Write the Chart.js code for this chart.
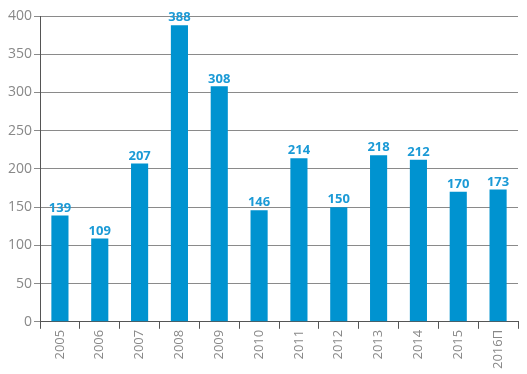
<!DOCTYPE html>
<html>
<head>
<meta charset="utf-8">
<script src="https://cdn.jsdelivr.net/npm/chart.js@4/dist/chart.umd.min.js"></script>
<style>
  html, body { margin: 0; padding: 0; background: #fff; }
  #wrap { width: 527px; height: 374px; }
</style>
</head>
<body>
<div id="wrap"><canvas id="chart"></canvas></div>
<script>
'use strict';

var years = ['2005', '2006', '2007', '2008', '2009', '2010', '2011', '2012', '2013', '2014', '2015', '2016П'];
var values = [139, 109, 207, 388, 308, 146, 214, 150, 218, 212, 170, 173];
var yTicks = [0, 50, 100, 150, 200, 250, 300, 350, 400];

// draws the value above each bar
var valueLabels = {
    id: 'valueLabels',
    afterDatasetsDraw: function (chart) {
        var ctx = chart.ctx;
        var meta = chart.getDatasetMeta(0);
        ctx.save();
        ctx.font = 'bold 13px "Open Sans", sans-serif';
        ctx.fillStyle = '#1b9ad6';
        ctx.textAlign = 'center';
        ctx.textBaseline = 'bottom';
        meta.data.forEach(function (bar, i) {
            ctx.fillText(values[i], bar.x, bar.y - 1);
        });
        ctx.restore();
    }
};

new Chart(document.getElementById('chart'), {
    type: 'bar',
    data: {
        labels: years,
        datasets: [{
            data: values,
            backgroundColor: '#0093d0',
            barPercentage: 0.43,
            categoryPercentage: 1
        }]
    },
    options: {
        responsive: true,
        maintainAspectRatio: false,
        animation: false,
        layout: { padding: { left: 6, right: 9, top: 16, bottom: 4 } },
        plugins: {
            legend: { display: false },
            tooltip: { enabled: false }
        },
        scales: {
            x: {
                offset: true,
                grid: {
                    offset: true,
                    drawOnChartArea: false,
                    tickLength: 7,
                    color: '#555'
                },
                border: { color: '#555' },
                ticks: {
                    color: '#888',
                    font: { family: 'Open Sans', size: 13 },
                    maxRotation: 90,
                    minRotation: 90,
                    padding: 1
                }
            },
            y: {
                min: 0,
                max: 400,
                afterBuildTicks: function (axis) {
                    axis.ticks = yTicks.map(function (v) { return { value: v }; });
                },
                grid: {
                    color: '#8a8a8a',
                    tickLength: 6
                },
                border: { color: '#555' },
                ticks: {
                    color: '#888',
                    font: { family: 'Open Sans', size: 14 },
                    padding: 2
                }
            }
        }
    },
    plugins: [valueLabels]
});
</script>
</body>
</html>
